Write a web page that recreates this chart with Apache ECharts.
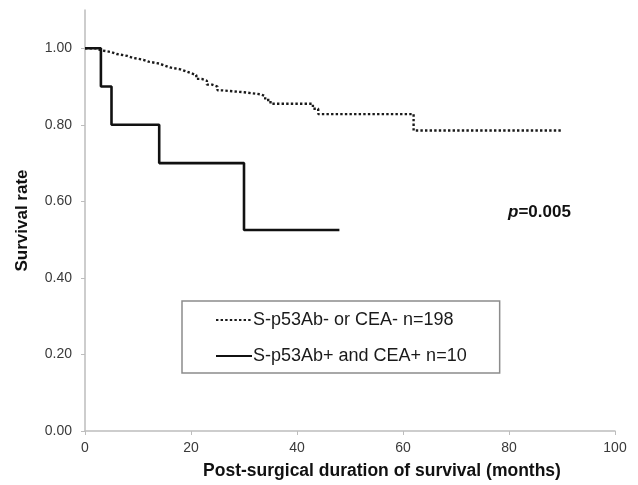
<!DOCTYPE html>
<html>
<head>
<meta charset="utf-8">
<script src="https://cdn.jsdelivr.net/npm/echarts@6/dist/echarts.min.js"></script>
<style>
  html, body { margin: 0; padding: 0; background: #fff; }
  #survival { width: 638px; height: 485px; }
</style>
</head>
<body>
<div id="survival"></div>
<script>
// S-p53Ab- or CEA- (n=198)
const negMonths = [0, 2, 3, 5, 6, 8, 9, 11, 12, 14, 15, 16, 18, 19, 20, 21, 22, 23, 24, 25, 26, 30, 33, 34, 35, 43, 44, 62, 90];
const negSurvival = [1.0, 0.995, 0.99, 0.985, 0.98, 0.975, 0.97, 0.965, 0.96, 0.955, 0.95, 0.945, 0.94, 0.935, 0.93, 0.92, 0.915, 0.905, 0.9, 0.89, 0.885, 0.88, 0.875, 0.865, 0.855, 0.842, 0.828, 0.785, 0.785];

// S-p53Ab+ and CEA+ (n=10)
const posMonths = [0, 3, 5, 14, 30, 48];
const posSurvival = [1.0, 0.9, 0.8, 0.7, 0.525, 0.525];

const xTicks = [0, 20, 40, 60, 80, 100];
const yTicks = [0, 0.2, 0.4, 0.6, 0.8, 1.0];

const seriesNames = ['S-p53Ab- or CEA- n=198', 'S-p53Ab+ and CEA+ n=10'];

const pair = (xs, ys) => xs.map((x, i) => [x, ys[i]]);

const font = 'Liberation Sans, Arial, sans-serif';
const axisGrey = '#bdbdbd';

var chart = echarts.init(document.getElementById('survival'));

chart.setOption({
    animation: false,
    textStyle: { fontFamily: font },
    title: {
        text: '{i|p}=0.005',
        left: 508,
        top: 204,
        padding: 0,
        textStyle: {
            fontFamily: font,
            fontSize: 17,
            fontWeight: 'bold',
            color: '#111',
            rich: {
                i: { fontFamily: font, fontSize: 17, fontWeight: 'bold', fontStyle: 'italic', color: '#111' }
            }
        }
    },
    grid: { left: 85, right: 23, top: 10, bottom: 52, containLabel: false },
    legend: {
        orient: 'vertical',
        left: 182,
        top: 301,
        padding: [10, 33, 8, 33],
        itemGap: 18,
        itemWidth: 36,
        itemHeight: 14,
        backgroundColor: '#fff',
        borderColor: '#8c8c8c',
        borderWidth: 1.5,
        itemStyle: { opacity: 0 },
        textStyle: { fontFamily: font, fontSize: 18, color: '#1a1a1a', padding: [0, 0, 0, -4] },
        data: seriesNames
    },
    xAxis: {
        type: 'value',
        min: 0,
        max: 100,
        interval: 20,
        name: 'Post-surgical duration of survival (months)',
        nameLocation: 'middle',
        nameGap: 31,
        nameTextStyle: { fontFamily: font, fontSize: 17.5, fontWeight: 'bold', color: '#111', padding: [0, 0, 0, 64] },
        axisLine: { lineStyle: { color: axisGrey, width: 1.5 } },
        axisTick: { show: true, length: 4, lineStyle: { color: axisGrey } },
        axisLabel: { customValues: xTicks, margin: 10, fontSize: 14, color: '#3a3a3a' },
        splitLine: { show: false }
    },
    yAxis: {
        type: 'value',
        min: 0,
        max: 1.1,
        name: 'Survival rate',
        nameLocation: 'middle',
        nameGap: 54,
        nameTextStyle: { fontFamily: font, fontSize: 17, fontWeight: 'bold', color: '#111' },
        axisLine: { show: true, lineStyle: { color: axisGrey, width: 1.5 } },
        axisTick: { show: true, length: 4, customValues: yTicks, lineStyle: { color: axisGrey } },
        axisLabel: {
            customValues: yTicks,
            margin: 13,
            fontSize: 14,
            color: '#3a3a3a',
            formatter: v => v.toFixed(2)
        },
        splitLine: { show: false }
    },
    series: [
        {
            name: seriesNames[0],
            type: 'line',
            step: 'end',
            symbol: 'none',
            data: pair(negMonths, negSurvival),
            lineStyle: { color: '#1a1a1a', width: 2.4, type: [2.4, 2.2] },
            itemStyle: { color: '#1a1a1a' },
            z: 2
        },
        {
            name: seriesNames[1],
            type: 'line',
            step: 'end',
            symbol: 'none',
            data: pair(posMonths, posSurvival),
            lineStyle: { color: '#111', width: 2.6 },
            itemStyle: { color: '#111' },
            z: 3
        }
    ]
});
</script>
</body>
</html>
